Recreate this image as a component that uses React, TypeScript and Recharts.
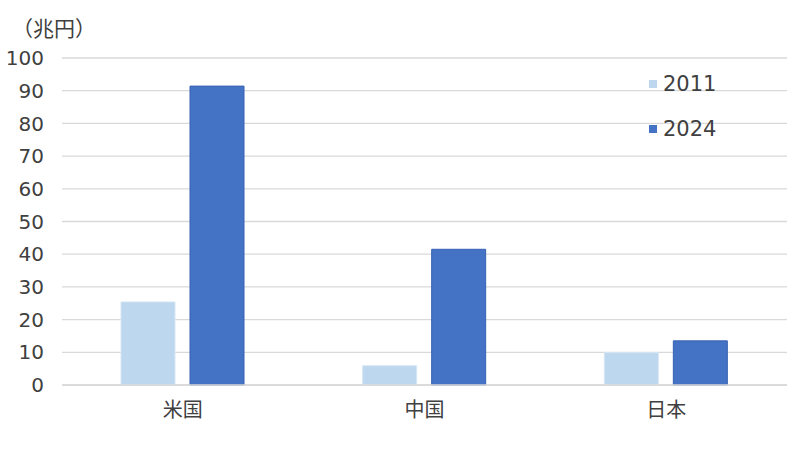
import React from 'react';
import { BarChart, Bar, XAxis, YAxis, CartesianGrid, Legend } from 'recharts';

const categories = ['米国', '中国', '日本'];
const values2011 = [25.4, 5.9, 9.9];
const values2024 = [91.4, 41.5, 13.5];
const yTicks = [0, 10, 20, 30, 40, 50, 60, 70, 80, 90, 100];
const seriesNames = ['2011', '2024'];

const data = categories.map((c, i) => ({ name: c, v2011: values2011[i], v2024: values2024[i] }));

const FONT = '"DejaVu Sans", "Noto Sans CJK JP", sans-serif';
const CJK = '"Noto Sans CJK JP", sans-serif';
const TEXT = '#404040';

const LegendContent = (props: any) => {
  const { payload } = props;
  return (
    <div style={{ fontFamily: FONT }}>
      {(payload || []).map((p: any, i: number) => (
        <div key={i} style={{ display: 'flex', alignItems: 'center', height: 45 }}>
          <span style={{ width: 8, height: 8, background: p.color, display: 'inline-block', marginRight: 6 }} />
          <span style={{ fontSize: 21, color: TEXT }}>{p.value}</span>
        </div>
      ))}
    </div>
  );
};

export default function App() {
  return (
    <div style={{ position: 'absolute', left: 0, top: 0, width: 800, height: 459, background: '#fff' }}>
      <div style={{ position: 'absolute', left: 12, top: 13, fontFamily: CJK, fontSize: 21, color: TEXT, lineHeight: '28px' }}>
        （兆円）
      </div>
      <BarChart
        width={800}
        height={459}
        data={data}
        margin={{ top: 58, right: 13, bottom: 44, left: 0 }}
        barGap={15}
        barSize={54}
      >
        <CartesianGrid vertical={false} stroke="#D9D9D9" strokeWidth={1.3} />
        <XAxis
          dataKey="name"
          axisLine={{ stroke: '#D9D9D9', strokeWidth: 1.3 }}
          tickLine={false}
          tickMargin={12}
          height={30}
          tick={{ fill: TEXT, fontSize: 20, fontFamily: CJK }}
        />
        <YAxis
          domain={[0, 100]}
          ticks={yTicks}
          width={62}
          axisLine={false}
          tickLine={false}
          tickMargin={12}
          interval={0}
          tick={{ fill: TEXT, fontSize: 20, fontFamily: FONT }}
        />
        <Legend
          layout="horizontal"
          verticalAlign="middle"
          align="center"
          content={<LegendContent />}
          wrapperStyle={{ left: 649, top: 61, width: 120 }}
        />
        <Bar dataKey="v2011" name={seriesNames[0]} fill="#BDD7EE" stroke="#D6E6F5" strokeWidth={1} isAnimationActive={false} />
        <Bar dataKey="v2024" name={seriesNames[1]} fill="#4472C4" stroke="#3762B3" strokeWidth={1} isAnimationActive={false} />
      </BarChart>
    </div>
  );
}
